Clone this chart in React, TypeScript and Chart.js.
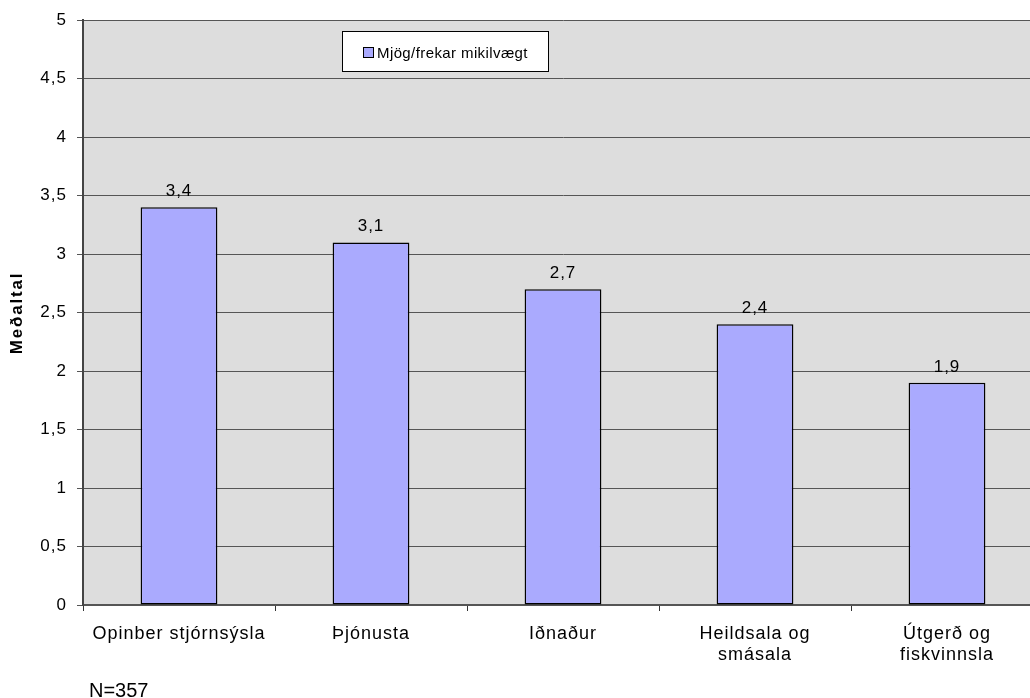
import React, { useEffect, useRef } from "react";
import { Chart, registerables } from "chart.js";

Chart.register(...registerables);

const categories: string[][] = [
  ["Opinber stjórnsýsla"],
  ["Þjónusta"],
  ["Iðnaður"],
  ["Heildsala og", "smásala"],
  ["Útgerð og", "fiskvinnsla"],
];
const values: number[] = [3.4, 3.1, 2.7, 2.4, 1.9];
const seriesLabel = "Mjög/frekar mikilvægt";
const yAxisTitle = "Meðaltal";
const footnote = "N=357";
const yMin = 0;
const yMax = 5;
const yStep = 0.5;

const FONT = "'Liberation Sans', Arial, sans-serif";
const BAR_COLOR = "#AAAAFE";

const fmt = (v: number) => String(v).replace(".", ",");

export default function App() {
  const ref = useRef<HTMLCanvasElement | null>(null);

  useEffect(() => {
    const canvas = ref.current;
    if (!canvas) return;

    const deco = {
      id: "deco",
      beforeUpdate(chart: any) {
        (chart.ctx as any).letterSpacing = "1px";
      },
      beforeDraw(chart: any) {
        const { ctx, chartArea } = chart;
        (ctx as any).letterSpacing = "1px";
        ctx.save();
        ctx.fillStyle = "#DDDDDD";
        ctx.fillRect(chartArea.left, chartArea.top, chartArea.right - chartArea.left, chartArea.bottom - chartArea.top);
        ctx.restore();
      },
      afterDatasetsDraw(chart: any) {
        const { ctx } = chart;
        const meta = chart.getDatasetMeta(0);
        ctx.save();
        ctx.font = `17px ${FONT}`;
        ctx.fillStyle = "#000";
        ctx.textAlign = "center";
        ctx.textBaseline = "alphabetic";
        (ctx as any).letterSpacing = "1px";
        meta.data.forEach((bar: any, i: number) => {
          ctx.fillText(fmt(values[i]), bar.x, bar.y - 11);
        });
        ctx.restore();
      },
      afterDraw(chart: any) {
        const { ctx } = chart;
        ctx.save();
        // legend box
        ctx.fillStyle = "#FFFFFF";
        ctx.fillRect(342.5, 31.5, 206, 40);
        ctx.strokeStyle = "#000";
        ctx.lineWidth = 1;
        ctx.strokeRect(342.5, 31.5, 206, 40);
        ctx.fillStyle = BAR_COLOR;
        ctx.fillRect(363.5, 47.5, 10, 10);
        ctx.strokeRect(363.5, 47.5, 10, 10);
        ctx.fillStyle = "#000";
        ctx.font = `15px ${FONT}`;
        (ctx as any).letterSpacing = "0.4px";
        ctx.textAlign = "left";
        ctx.textBaseline = "alphabetic";
        ctx.fillText(seriesLabel, 377, 58);
        // footnote
        ctx.font = `20px ${FONT}`;
        (ctx as any).letterSpacing = "0px";
        ctx.fillText(footnote, 89, 697);
        // y axis title
        ctx.translate(17, 313);
        ctx.rotate(-Math.PI / 2);
        ctx.font = `bold 17px ${FONT}`;
        (ctx as any).letterSpacing = "1.8px";
        ctx.textAlign = "center";
        ctx.textBaseline = "middle";
        ctx.fillText(yAxisTitle, 0, 0);
        ctx.restore();
      },
    };

    const chart = new Chart(canvas, {
      type: "bar",
      data: {
        labels: categories,
        datasets: [
          {
            label: seriesLabel,
            data: values,
            backgroundColor: BAR_COLOR,
            borderColor: "#000000",
            borderWidth: 1.5,
            borderSkipped: false,
            barPercentage: 0.4,
            categoryPercentage: 1,
          },
        ],
      },
      options: {
        responsive: false,
        animation: false,
        layout: { padding: { left: 0, top: 20, right: 7, bottom: 0 } },
        plugins: {
          legend: { display: false },
          tooltip: { enabled: false },
        },
        scales: {
          x: {
            offset: true,
            grid: {
              offset: true,
              drawOnChartArea: false,
              drawTicks: true,
              tickLength: 6,
              color: "#333333",
            },
            border: { display: true, color: "#555555", width: 2 },
            ticks: {
              autoSkip: false,
              maxRotation: 0,
              minRotation: 0,
              padding: 12,
              color: "#000",
              font: { family: FONT, size: 18, lineHeight: 1.2 },
            },
            afterFit(scale: any) {
              scale.height = 93;
            },
          },
          y: {
            min: yMin,
            max: yMax,
            ticks: {
              stepSize: yStep,
              padding: 10,
              color: "#000",
              font: { family: FONT, size: 17 },
              callback: (v: any) => fmt(Number(v)),
            },
            grid: {
              color: "#555555",
              lineWidth: 1,
              tickLength: 6,
              drawTicks: true,
            },
            border: { display: true, color: "#444444", width: 2 },
            afterFit(scale: any) {
              scale.width = 83;
            },
          },
        },
      },
      plugins: [deco],
    });

    return () => chart.destroy();
  }, []);

  return (
    <div
      style={{
        position: "fixed",
        left: 0,
        top: 0,
        width: 1030,
        height: 698,
        overflow: "hidden",
        background: "#fff",
      }}
    >
      <canvas ref={ref} width={1050} height={698} style={{ display: "block" }} />
    </div>
  );
}
